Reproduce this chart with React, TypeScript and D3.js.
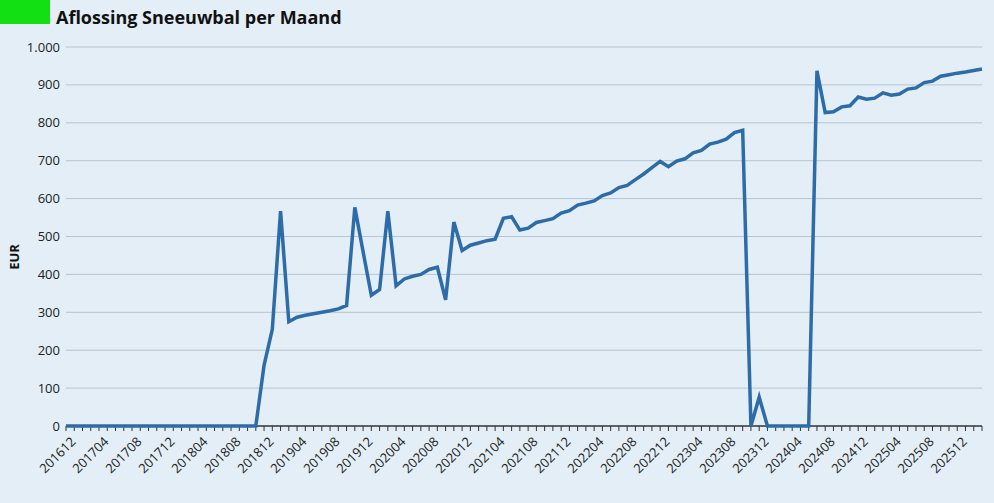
import React from "react";
import * as d3 from "d3";

const W = 994;
const H = 503;

const title = "Aflossing Sneeuwbal per Maand";
const yLabel = "EUR";
const yTicks = [0, 100, 200, 300, 400, 500, 600, 700, 800, 900, 1000];

const startYear = 2016;
const startMonth = 12;
const monthCount = 112;

const values = [
  0, 0, 0, 0, 0, 0, 0, 0, 0, 0, 0, 0, 0, 0, 0, 0, 0, 0, 0, 0, 0, 0, 0, 0,
  160, 255, 567, 275, 287, 292, 296, 300, 304, 309, 318, 577, 460, 345, 360,
  567, 370, 388, 395, 400, 413, 419, 333, 538, 463, 477, 483, 489, 493, 548,
  552, 517, 522, 537, 542, 547, 562, 568, 583, 588, 594, 608, 615, 629, 635,
  650, 665, 682, 698, 684, 699, 705, 721, 727, 744, 749, 757, 774, 780, 0, 76,
  0, 0, 0, 0, 0, 0, 937, 827, 829, 842, 845, 868, 862, 865, 879, 873, 876, 889,
  892, 906, 910, 923, 927, 931, 934, 938, 942,
];

const categories: string[] = d3.range(monthCount).map((i) => {
  const m0 = startMonth - 1 + i;
  const y = startYear + Math.floor(m0 / 12);
  const m = (m0 % 12) + 1;
  return `${y}${String(m).padStart(2, "0")}`;
});

export default function App() {
  const left = 66;
  const right = 982;
  const top = 47;
  const bottom = 426;

  const x = d3.scalePoint<string>().domain(categories).range([left, right]);
  const y = d3.scaleLinear().domain([0, 1000]).range([bottom, top]);

  const line = d3
    .line<number>()
    .x((_, i) => x(categories[i]) as number)
    .y((d) => y(d));

  const fmt = (v: number) => d3.format(",")(v).replace(/,/g, ".");
  const font = "'Open Sans', 'Noto Sans', sans-serif";

  return (
    <svg
      width={W}
      height={H}
      style={{ position: "absolute", left: 0, top: 0, display: "block" }}
    >
      <rect x={0} y={0} width={W} height={H} fill="#e3eef6" />
      <rect x={0} y={0} width={50} height={24} fill="#12e012" />
      <text
        x={56}
        y={24}
        fontFamily={font}
        fontWeight={700}
        fontSize={18}
        fill="#111"
      >
        {title}
      </text>
      {yTicks.map((t) => (
        <g key={t}>
          {t > 0 && (
            <line
              x1={left}
              x2={right}
              y1={y(t)}
              y2={y(t)}
              stroke="#b4c6d3"
              strokeWidth={1}
            />
          )}
          <text
            x={60}
            y={y(t)}
            dy="0.35em"
            textAnchor="end"
            fontFamily={font}
            fontSize={13}
            fill="#222"
          >
            {fmt(t)}
          </text>
        </g>
      ))}
      <text
        transform={`translate(19, 257) rotate(-90)`}
        textAnchor="middle"
        fontFamily={font}
        fontWeight={700}
        fontSize={13}
        fill="#111"
      >
        {yLabel}
      </text>
      <line x1={left} x2={right} y1={bottom} y2={bottom} stroke="#333" strokeWidth={1.5} />
      {categories.map((c) => (
        <line
          key={c}
          x1={x(c)}
          x2={x(c)}
          y1={bottom}
          y2={bottom + 5}
          stroke="#333"
          strokeWidth={1}
        />
      ))}
      {categories.map((c, i) =>
        i % 4 === 0 ? (
          <text
            key={"l" + c}
            transform={`translate(${(x(c) as number) + 4}, ${bottom + 10}) rotate(-45)`}
            textAnchor="end"
            dy="0.7em"
            fontFamily={font}
            fontSize={13}
            fill="#222"
          >
            {c}
          </text>
        ) : null
      )}
      <path
        d={line(values) || ""}
        fill="none"
        stroke="#2d6ca8"
        strokeWidth={3.5}
        strokeLinejoin="miter"
      />
    </svg>
  );
}
